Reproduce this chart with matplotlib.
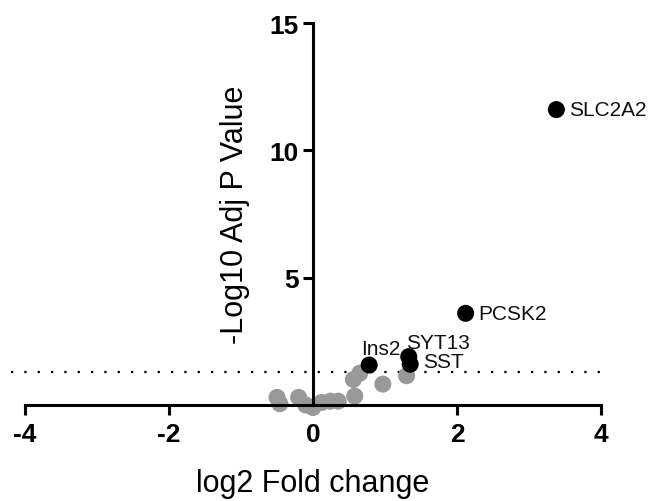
import matplotlib
matplotlib.use("Agg")
import matplotlib.pyplot as plt

plt.rcParams['font.family'] = ['Liberation Sans', 'DejaVu Sans']
plt.rcParams['axes.unicode_minus'] = False

# Significant genes (labelled, black)
sig_genes = ["SLC2A2", "PCSK2", "Ins2", "SYT13", "SST"]
sig_log2fc = [3.38, 2.12, 0.78, 1.33, 1.35]
sig_neglogp = [11.6, 3.6, 1.57, 1.90, 1.60]

# Non-significant genes (grey)
ns_log2fc = [-0.50, -0.46, -0.20, -0.10, 0.00, 0.12, 0.24, 0.35, 0.58, 0.56, 0.65, 0.97, 1.30]
ns_neglogp = [0.30, 0.05, 0.30, 0.00, -0.10, 0.10, 0.15, 0.15, 0.35, 1.00, 1.25, 0.82, 1.15]

threshold = 1.3

# Label offsets in points (dx, dy) per gene
label_offsets = {"SLC2A2": (9, 0), "PCSK2": (9, 0), "Ins2": (-6, 12),
                 "SYT13": (-2, 10), "SST": (9, 2)}

fig = plt.figure(figsize=(6.52, 5.02), dpi=100)
ax = fig.add_axes([25/652, 96/502, 576/652, 382/502])

ax.axhline(threshold, color='black', linestyle=(0, (1, 5)), linewidth=1.6,
           xmin=-0.025, xmax=1.0, clip_on=False, zorder=1)

ax.scatter(ns_log2fc, ns_neglogp, s=150, color='#999999', edgecolors='none',
           clip_on=False, zorder=2)
ax.scatter(sig_log2fc, sig_neglogp, s=150, color='black', edgecolors='none',
           clip_on=False, zorder=3)

for g, x, y in zip(sig_genes, sig_log2fc, sig_neglogp):
    dx, dy = label_offsets[g]
    ax.annotate(g, (x, y), xytext=(dx, dy), textcoords='offset points',
                ha='left', va='center', fontsize=15, color='#111111')

ax.set_xlim(-4, 4)
ax.set_ylim(0, 15)

ax.spines['left'].set_position(('data', 0))
ax.spines['bottom'].set_position(('data', 0))
ax.spines['top'].set_visible(False)
ax.spines['right'].set_visible(False)
for sp in ('left', 'bottom'):
    ax.spines[sp].set_linewidth(2.2)

ax.set_xticks([-4, -2, 0, 2, 4])
ax.set_yticks([5, 10, 15])
ax.tick_params(axis='both', direction='out', length=7, width=2.2, labelsize=19)
ax.tick_params(axis='x', pad=5)
ax.tick_params(axis='y', pad=3)
for lbl in ax.get_xticklabels() + ax.get_yticklabels():
    lbl.set_fontweight('bold')

ax.set_xlabel("log2 Fold change", fontsize=22)
ax.set_ylabel("-Log10 Adj P Value", fontsize=22)
ax.xaxis.set_label_coords(0.5, -0.165)
ax.yaxis.set_label_coords(0.39, 0.50)

fig.savefig("out.png", dpi=100)
